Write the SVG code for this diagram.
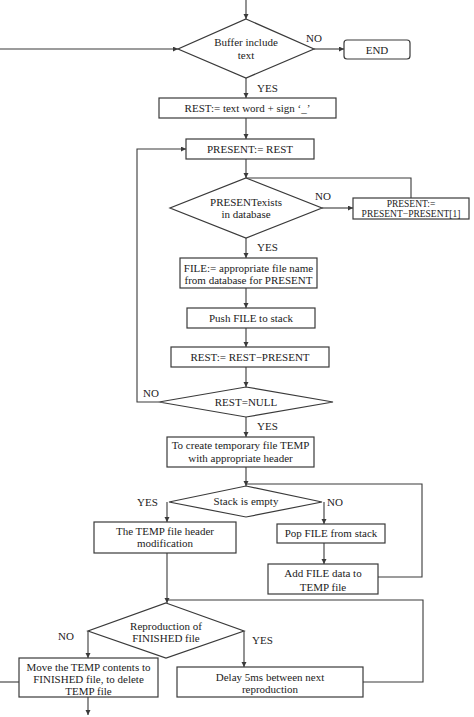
<svg xmlns="http://www.w3.org/2000/svg" width="474" height="717" viewBox="0 0 474 717">
<style>
.n{fill:#fff;stroke:#3a3a3a;stroke-width:1.2}
.t{font-family:"Liberation Serif","Times New Roman","DejaVu Serif",serif;font-size:11px;fill:#222;text-anchor:middle}
.l{font-family:"Liberation Serif","Times New Roman","DejaVu Serif",serif;font-size:11px;fill:#222}
.s{font-size:9.5px}
.c{fill:none;stroke:#3a3a3a;stroke-width:1.1}
</style>
<defs>
<marker id="a" markerUnits="userSpaceOnUse" markerWidth="6" markerHeight="6" refX="5" refY="2.5" orient="auto">
<path d="M0,0 L5,2.5 L0,5 z" fill="#3a3a3a"/>
</marker>
</defs>
<rect width="474" height="717" fill="#fff"/>
<g id="connectors">
<path class="c" d="M246,0 V19" marker-end="url(#a)"/>
<path class="c" d="M0,49 H178" marker-end="url(#a)"/>
<path class="c" d="M314,49 H344" marker-end="url(#a)"/>
<path class="c" d="M246,78 V98" marker-end="url(#a)"/>
<path class="c" d="M246,118 V139" marker-end="url(#a)"/>
<path class="c" d="M246,159 V178" marker-end="url(#a)"/>
<path class="c" d="M411,198 V178 H246"/>
<path class="c" d="M322,208 H353" marker-end="url(#a)"/>
<path class="c" d="M246,238 V258" marker-end="url(#a)"/>
<path class="c" d="M246,288 V308" marker-end="url(#a)"/>
<path class="c" d="M246,328 V347" marker-end="url(#a)"/>
<path class="c" d="M246,367 V387" marker-end="url(#a)"/>
<path class="c" d="M159,402 H137 V149 H186" marker-end="url(#a)"/>
<path class="c" d="M246,417 V437" marker-end="url(#a)"/>
<path class="c" d="M246,467 V486" marker-end="url(#a)"/>
<path class="c" d="M378,577 H422 V484 H246"/>
<path class="c" d="M167,502 V522" marker-end="url(#a)"/>
<path class="c" d="M324,502 V524" marker-end="url(#a)"/>
<path class="c" d="M324,543 V564" marker-end="url(#a)"/>
<path class="c" d="M167,553 V603" marker-end="url(#a)"/>
<path class="c" d="M363,682 H423 V600 H167"/>
<path class="c" d="M88,631 V658" marker-end="url(#a)"/>
<path class="c" d="M244,631 V667" marker-end="url(#a)"/>
<path class="c" d="M0,682 H19"/>
<path class="c" d="M88,697 V715" marker-end="url(#a)"/>
</g>
<g id="n_buffer">
<polygon class="n" points="246,19 314,49 246,78 178,49"/>
<text class="t" x="246" y="46">Buffer include</text>
<text class="t" x="246" y="59">text</text>
</g>
<g id="n_end">
<rect class="n" x="344" y="40" width="66" height="19" rx="3"/>
<text class="t" x="377" y="53.5">END</text>
</g>
<g id="n_rest1">
<rect class="n" x="159" y="98" width="177" height="20"/>
<text class="t" x="247.5" y="112">REST:= text word + sign ‘_’</text>
</g>
<g id="n_present">
<rect class="n" x="186" y="139" width="128" height="20"/>
<text class="t" x="250" y="153">PRESENT:= REST</text>
</g>
<g id="n_exists">
<polygon class="n" points="246,178 322,208 246,238 170,208"/>
<text class="t" x="246" y="206">PRESENTexists</text>
<text class="t" x="246" y="218">in database</text>
</g>
<g id="n_present2">
<rect class="n" x="353" y="198" width="116" height="21"/>
<text class="t s" x="411" y="207">PRESENT:=</text>
<text class="t s" x="411" y="217">PRESENT−PRESENT[1]</text>
</g>
<g id="n_file">
<rect class="n" x="180" y="258" width="137" height="30"/>
<text class="t" x="248.5" y="272">FILE:= appropriate file name</text>
<text class="t" x="248.5" y="284">from database for PRESENT</text>
</g>
<g id="n_push">
<rect class="n" x="187" y="308" width="128" height="20"/>
<text class="t" x="251" y="322">Push FILE to stack</text>
</g>
<g id="n_rest2">
<rect class="n" x="171" y="347" width="158" height="20"/>
<text class="t" x="250" y="361">REST:= REST−PRESENT</text>
</g>
<g id="n_null">
<polygon class="n" points="246,387 333,402 246,417 159,402"/>
<text class="t" x="246" y="406">REST=NULL</text>
</g>
<g id="n_create">
<rect class="n" x="167" y="437" width="147" height="30"/>
<text class="t" x="240.5" y="449">To create temporary file TEMP</text>
<text class="t" x="240.5" y="462">with appropriate header</text>
</g>
<g id="n_stack">
<polygon class="n" points="246,486 322,502 246,517 169,502"/>
<text class="t" x="246" y="505">Stack is empty</text>
</g>
<g id="n_header">
<rect class="n" x="94" y="522" width="142" height="31"/>
<text class="t" x="165" y="535">The TEMP file header</text>
<text class="t" x="165" y="547">modification</text>
</g>
<g id="n_pop">
<rect class="n" x="277" y="524" width="108" height="19"/>
<text class="t" x="331" y="537">Pop FILE from stack</text>
</g>
<g id="n_add">
<rect class="n" x="268" y="564" width="110" height="30"/>
<text class="t" x="323" y="577">Add FILE data to</text>
<text class="t" x="323" y="591">TEMP file</text>
</g>
<g id="n_repro">
<polygon class="n" points="166,603 244,631 166,658 88,631"/>
<text class="t" x="166" y="630">Reproduction of</text>
<text class="t" x="166" y="642">FINISHED file</text>
</g>
<g id="n_move">
<rect class="n" x="19" y="658" width="139" height="39"/>
<text class="t" x="88.5" y="671">Move the TEMP contents to</text>
<text class="t" x="88.5" y="683">FINISHED file, to delete</text>
<text class="t" x="88.5" y="695">TEMP file</text>
</g>
<g id="n_delay">
<rect class="n" x="177" y="667" width="186" height="30"/>
<text class="t" x="270" y="681">Delay 5ms between next</text>
<text class="t" x="270" y="693">reproduction</text>
</g>
<g id="labels">
<text class="l" x="306" y="42">NO</text>
<text class="l" x="257" y="92">YES</text>
<text class="l" x="315" y="200">NO</text>
<text class="l" x="257" y="251">YES</text>
<text class="l" x="143" y="397">NO</text>
<text class="l" x="257" y="430">YES</text>
<text class="l" x="137" y="506">YES</text>
<text class="l" x="327" y="506">NO</text>
<text class="l" x="58" y="640">NO</text>
<text class="l" x="252" y="644">YES</text>
</g>
</svg>
